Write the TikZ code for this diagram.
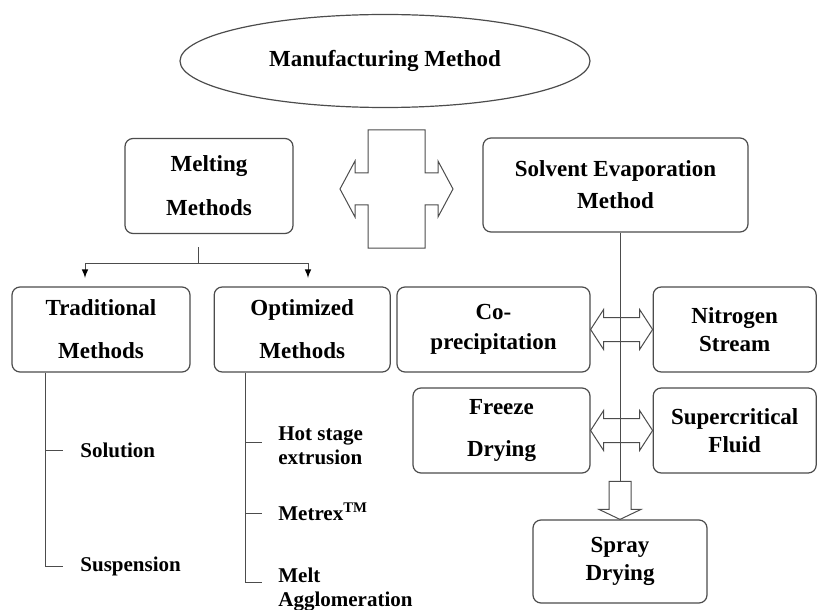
\documentclass[tikz,border=0pt]{standalone}
\usepackage{fontspec}
\setmainfont{Liberation Serif}
\usetikzlibrary{positioning, calc, shapes.geometric}

\begin{document}
\begin{tikzpicture}[
                x=0.5pt, y=-0.5pt,
                font=\bfseries\fontsize{11.5}{14}\selectfont,
                >=latex,
                box/.style={draw=black!70, line width=0.6pt, rounded corners=4pt, align=center, inner sep=2pt, minimum height=42.5pt},
                leaf/.style={anchor=west, align=left, inner sep=0pt, font=\bfseries\fontsize{10.5}{12}\selectfont},
                hollow/.style={draw=black!70, line width=0.5pt, line join=miter},
                tree/.style={draw=black!70, line width=0.5pt}]

    \useasboundingbox (0,0) rectangle (820,610);

    %%% NODES
    \node [ellipse, draw=black!70, line width=0.6pt, minimum width=205pt, minimum height=46.5pt] (manufacturing) at (385,61) {Manufacturing Method};
    \node [box, minimum width=84pt, minimum height=47.5pt] (melting) at (209,186) {Melting\\[8pt]Methods};
    \node [box, minimum width=132.5pt, minimum height=47pt] (solvent) at (615.5,185) {Solvent Evaporation\\[2pt]Method};
    \node [box, minimum width=89pt] (traditional) at (101,329.5) {Traditional\\[7.5pt]Methods};
    \node [box, minimum width=88pt, right=11.5pt of traditional] (optimized) {Optimized\\[7.5pt]Methods};
    \node [box, minimum width=96.5pt] (coprecipitation) at (493.5,329.5) {Co-\\[1pt]precipitation};
    \node [box, minimum width=81.5pt, right=31pt of coprecipitation] (nitrogen) {Nitrogen\\Stream};
    \node [box, minimum width=88.5pt] (freeze) at (501.5,430.5) {Freeze\\[7pt]Drying};
    \node [box, minimum width=81.5pt, right=31pt of freeze] (supercritical) {Supercritical\\Fluid};
    \node [box, minimum width=87pt, minimum height=41.5pt] (spray) at (620,561.5) {Spray\\Drying};

    \node [leaf] (solution) at (80,450) {Solution};
    \node [leaf] (suspension) at (80,566) {Suspension};
    \node [leaf] (hotstage) at (278,446) {Hot stage\\extrusion};
    \node [leaf] (metrex) at (278,512) {Metrex\textsuperscript{TM}};
    \node [leaf] (melt) at (278,590) {Melt\\Agglomeration};

    \coordinate (hub) at (396.5,189);
    \coordinate (split) at (198,263);

    %%% CONNECTIONS
    % cross-shaped double arrow between the two families
    \draw [hollow, shift={(hub)}] (-28.5,-59) -- (28.5,-59) -- (28.5,-16) -- (41.5,-16) -- (41.5,-28) -- (56.5,0)
        -- (41.5,28) -- (41.5,16) -- (28.5,16) -- (28.5,59) -- (-28.5,59) -- (-28.5,16) -- (-41.5,16)
        -- (-41.5,28) -- (-56.5,0) -- (-41.5,-28) -- (-41.5,-16) -- (-28.5,-16) -- cycle;

    % melting branch
    \draw [tree] (split |- 0,247) -- (split);
    \draw [tree, ->, >={latex[black]}] (split) -| (85,278);
    \draw [tree, ->, >={latex[black]}] (split) -| (308,278);

    \draw [tree] (traditional.south -| 45,0) |- ($(suspension.west)+(-17,0)$);
    \draw [tree] (45,450) -- ($(solution.west)+(-17,0)$);
    \draw [tree] (optimized.south -| 245,0) |- ($(melt.west)+(-16,-8)$);
    \draw [tree] (245,442) -- (262,442);
    \draw [tree] (245,513) -- (262,513);

    % solvent branch
    \draw [tree] (solvent.south -| spray.north) -- ($(spray.north)+(0,-38)$);
    \draw [hollow] (coprecipitation.east) -- ++(13,-20) -- ++(0,8) -- ++(36,0) -- ++(0,-8) -- ++(13,20)
        -- ++(-13,20) -- ++(0,-8) -- ++(-36,0) -- ++(0,8) -- cycle;
    \draw [hollow] (freeze.east) -- ++(13,-20) -- ++(0,8) -- ++(36,0) -- ++(0,-8) -- ++(13,20)
        -- ++(-13,20) -- ++(0,-8) -- ++(-36,0) -- ++(0,8) -- cycle;
    \draw [hollow] (spray.north) -- ++(-21,-10) -- ++(10,0) -- ++(0,-28) -- ++(22,0) -- ++(0,28) -- ++(10,0) -- cycle;

\end{tikzpicture}
\end{document}
